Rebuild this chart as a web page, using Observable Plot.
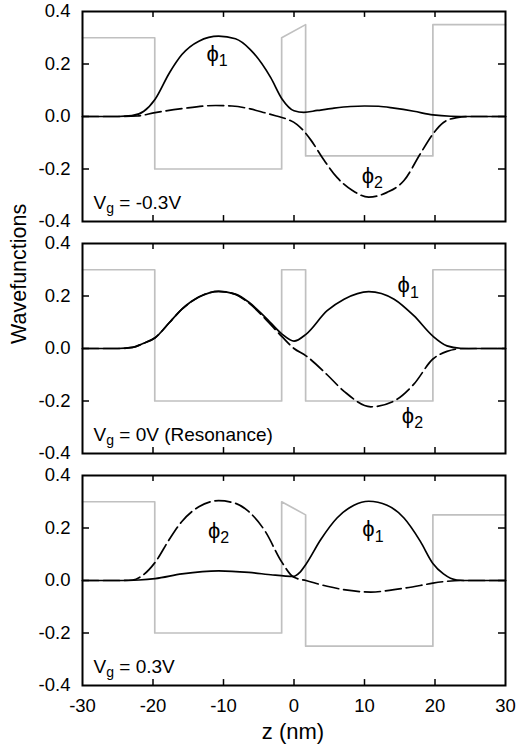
<!DOCTYPE html>
<html><head><meta charset="utf-8">
<script src="https://cdn.jsdelivr.net/npm/d3@7"></script>
<script src="https://cdn.jsdelivr.net/npm/@observablehq/plot@0.6"></script>
<style>body{margin:0;background:#fff;} #chart svg{display:block}</style>
</head><body><div id="chart"></div>
<script>
// ---- data ----
const panels = [0, 1, 2];
const panelLabels = ["V_g = -0.3V", "V_g = 0V (Resonance)", "V_g = 0.3V"];
const xTicks = [-30, -20, -10, 0, 10, 20, 30];
const yTicks = [-0.4, -0.2, 0, 0.2, 0.4];
const xInnerTicks = [-20, -10, 0, 10, 20];
const yInnerTicks = [-0.2, 0, 0.2];

// potential profiles (grey), [z, value]
const pot1 = [[-30,0.3],[-19.75,0.3],[-19.75,-0.2],[-1.75,-0.2],[-1.75,0.3],[1.65,0.35],[1.65,-0.15],[19.7,-0.15],[19.7,0.35],[30,0.35]];
const pot2 = [[-30,0.3],[-19.75,0.3],[-19.75,-0.2],[-1.75,-0.2],[-1.75,0.3],[1.65,0.3],[1.65,-0.2],[19.7,-0.2],[19.7,0.3],[30,0.3]];
const pot3 = [[-30,0.3],[-19.75,0.3],[-19.75,-0.2],[-1.75,-0.2],[-1.75,0.3],[1.65,0.25],[1.65,-0.25],[19.7,-0.25],[19.7,0.25],[30,0.25]];

// wavefunctions, [z, value]
const p1Phi1 = [[-30,0],[-25,0],[-23,0.003],[-21.3,0.02],[-19.7,0.066],[-17.7,0.165],[-15.9,0.236],[-13.5,0.287],[-10.7,0.306],[-8.3,0.296],[-6.2,0.255],[-3.3,0.148],[-1.7,0.067],[0,0.022],[1.4,0.016],[3.3,0.023],[5.5,0.031],[8,0.038],[10,0.04],[12,0.039],[14.2,0.032],[17,0.02],[19.7,0.006],[22.2,0.001],[25,0],[30,0]];
const p1Phi2 = [[-30,0],[-25,0],[-22.2,0.002],[-19.7,0.015],[-15.9,0.03],[-11.1,0.042],[-8.8,0.04],[-6.2,0.029],[-4.1,0.014],[-2.5,0.002],[-1.2,-0.008],[0.4,-0.03],[1.6,-0.062],[2.4,-0.09],[4.3,-0.168],[6.1,-0.232],[8.3,-0.282],[10.6,-0.307],[13.2,-0.289],[15.6,-0.244],[17.9,-0.143],[19.7,-0.067],[21.2,-0.023],[23.1,-0.004],[25,0],[30,0]];
const p2Phi1 = [[-30,0],[-25,0],[-22.9,0.004],[-21.5,0.018],[-19.7,0.041],[-17.7,0.098],[-15.9,0.15],[-13.5,0.196],[-10.7,0.218],[-8.3,0.207],[-6.4,0.176],[-4.1,0.12],[-1.7,0.055],[0,0.028],[1.7,0.054],[4.7,0.144],[7.1,0.188],[10.6,0.217],[14.2,0.188],[17,0.125],[19.7,0.047],[21.7,0.01],[23.6,0.001],[26,0],[30,0]];
const p2Phi2 = [[-30,0],[-25,0],[-22.9,0.004],[-21.5,0.018],[-19.7,0.041],[-17.7,0.098],[-15.9,0.15],[-13.5,0.196],[-10.7,0.218],[-8.3,0.206],[-6.4,0.173],[-4.1,0.114],[-1.7,0.045],[0,0.0],[1.7,-0.028],[4.7,-0.1],[7.1,-0.163],[10.9,-0.222],[14.2,-0.2],[17,-0.136],[19.7,-0.04],[21.7,-0.011],[23.6,-0.001],[26,0],[30,0]];
const p3Phi1 = [[-30,0],[-25,0],[-22,0.002],[-19.7,0.007],[-15.9,0.025],[-10.7,0.037],[-6.4,0.031],[-3,0.021],[-1.2,0.017],[0,0.016],[0.8,0.03],[1.7,0.062],[3.8,0.156],[6.1,0.238],[8.5,0.287],[10.6,0.302],[13.2,0.287],[15.6,0.238],[17.9,0.15],[19.7,0.065],[21.2,0.025],[23.1,0.002],[25,0],[30,0]];
const p3Phi2 = [[-30,0],[-25,0],[-22.9,0.002],[-21.5,0.019],[-19.7,0.069],[-17.7,0.156],[-15.9,0.225],[-13.5,0.281],[-10.7,0.304],[-8.3,0.294],[-6.4,0.262],[-4.1,0.188],[-1.7,0.069],[0,0.012],[1.7,0.0],[4.7,-0.022],[7.6,-0.037],[10.9,-0.044],[14.2,-0.035],[17.9,-0.019],[19.7,-0.01],[21.7,-0.003],[23.6,0],[30,0]];

// curve labels: panel, z, value (baseline), label
const phiPanel = [0, 0, 1, 1, 2, 2];
const phiZ = [-10.9, 11.1, 16.2, 16.8, -10.7, 11.2];
const phiV = [0.213, -0.253, 0.214, -0.283, 0.162, 0.169];
const phiText = ["ϕ_1", "ϕ_2", "ϕ_1", "ϕ_2", "ϕ_2", "ϕ_1"];

// ---- build tables ----
const toRows = (pts, panel) => pts.map(([z, v]) => ({panel, z, v}));
const pot = [pot1, pot2, pot3].flatMap((a, i) => toRows(a, i));
const phi1 = [p1Phi1, p2Phi1, p3Phi1].flatMap((a, i) => toRows(a, i));
const phi2 = [p1Phi2, p2Phi2, p3Phi2].flatMap((a, i) => toRows(a, i));
const phiLabels = phiText.map((label, i) => ({panel: phiPanel[i], z: phiZ[i], v: phiV[i], label}));

// ---- layout ----
const W = 517, H = 751;
const mL = 82, mR = 12, mT = 10, mB = 64;
const pad = 0.094;
const step = (H - mT - mB) / (3 - pad);
const bandH = step * (1 - pad);
const plotW = W - mL - mR;
const tickLen = 7;
const font = "'Liberation Sans', Arial, Helvetica, sans-serif";

const chart = Plot.plot({
  width: W, height: H,
  marginLeft: mL, marginRight: mR, marginTop: mT, marginBottom: mB,
  style: {fontFamily: font, fontSize: "18px", color: "#000", background: "#fff"},
  x: {domain: [-30, 30]},
  y: {domain: [-0.4, 0.4]},
  fy: {domain: panels, axis: null, paddingInner: pad, paddingOuter: 0},
  marks: [
    Plot.line(pot, {x: "z", y: "v", fy: "panel", z: "panel", stroke: "#c0c0c0", strokeWidth: 1.7}),
    Plot.line(phi2, {x: "z", y: "v", fy: "panel", z: "panel", stroke: "#000", strokeWidth: 1.7, strokeDasharray: "16,5", curve: "monotone-x"}),
    Plot.line(phi1, {x: "z", y: "v", fy: "panel", z: "panel", stroke: "#000", strokeWidth: 1.7, curve: "monotone-x"}),
    Plot.frame({stroke: "#000", strokeWidth: 2}),
    Plot.tickY(yInnerTicks, {y: d => d, stroke: "#000", strokeWidth: 1.5, insetRight: plotW - tickLen}),
    Plot.tickY(yInnerTicks, {y: d => d, stroke: "#000", strokeWidth: 1.5, insetLeft: plotW - tickLen}),
    Plot.tickX(xInnerTicks, {x: d => d, stroke: "#000", strokeWidth: 1.5, insetBottom: bandH - tickLen}),
    Plot.tickX(xInnerTicks, {x: d => d, stroke: "#000", strokeWidth: 1.5, insetTop: bandH - tickLen}),
    Plot.axisY({ticks: yTicks, tickSize: 0, tickPadding: 12, tickFormat: d => d.toFixed(1), fontSize: 18.5, label: null}),
    Plot.axisX({ticks: xTicks, tickSize: 0, tickPadding: 13, tickFormat: d => String(d), fontSize: 18.5, label: null}),
    Plot.text(panelLabels, {fy: (d, i) => i, text: d => d, frameAnchor: "bottom-left", textAnchor: "start", lineAnchor: "bottom", dx: 11, dy: -13, fontSize: 19}),
    Plot.text(phiLabels, {x: "z", y: "v", fy: "panel", text: "label", lineAnchor: "bottom", fontSize: 22}),
    Plot.text(["Wavefunctions"], {fy: () => 1, text: d => d, frameAnchor: "left", rotate: -90, dx: -57, dy: -4.5, lineAnchor: "bottom", fontSize: 21.5}),
    Plot.text(["z (nm)"], {fy: () => 2, text: d => d, frameAnchor: "bottom", dx: -1, dy: 53, lineAnchor: "bottom", fontSize: 22})
  ]
});
document.getElementById("chart").appendChild(chart);

// subscripts: "A_bC" -> A, subscript b, C
const NS = "http://www.w3.org/2000/svg";
chart.querySelectorAll("text").forEach(t => {
  if (t.children.length) return;
  const s = t.textContent;
  const i = s.indexOf("_");
  if (i < 0) return;
  const fs = parseFloat(getComputedStyle(t).fontSize) || 18;
  const subSize = Math.round(fs * 0.74);
  const shift = fs * 0.25;
  t.textContent = "";
  const a = document.createElementNS(NS, "tspan"); a.textContent = s.slice(0, i); t.appendChild(a);
  const b = document.createElementNS(NS, "tspan"); b.textContent = s[i + 1];
  b.setAttribute("font-size", subSize); b.setAttribute("dy", shift); t.appendChild(b);
  const rest = s.slice(i + 2);
  if (rest) {
    const c = document.createElementNS(NS, "tspan"); c.textContent = rest;
    c.setAttribute("dy", -shift); t.appendChild(c);
  }
});
</script>
</body></html>
